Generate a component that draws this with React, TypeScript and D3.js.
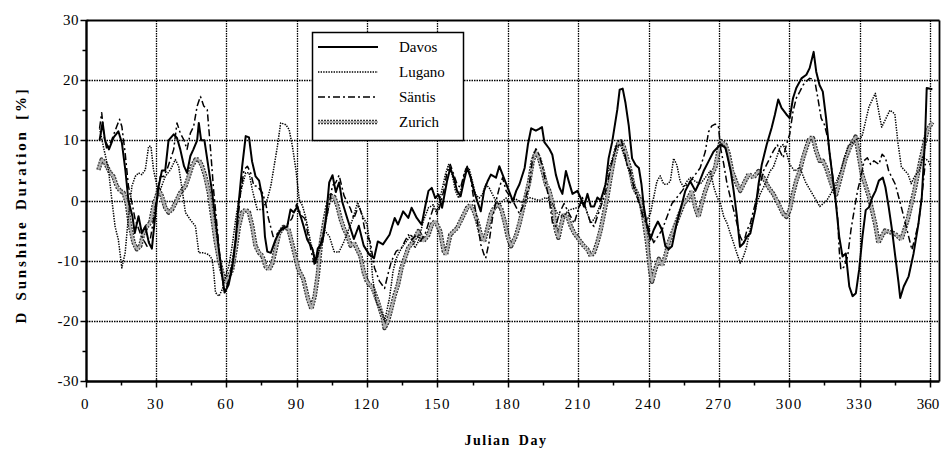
import * as d3 from "d3";

// Julian day, deviation of sunshine duration [%]
const davos: [number, number][] = [
  [6, 10], [7.3, 13], [8.3, 10], [10, 8.5], [12, 10.5], [14, 11.5], [15.5, 9.6], [17, 5], [18.3, 0], [20, -2.6],
  [21, -5.4], [22.6, -2.6], [24, -5.4], [25.5, -4.3], [27, -7], [28.3, -8], [29.7, -2.6], [31, 2], [32.6, 5], [34, 5],
  [35.4, 10], [37.6, 11], [39, 10.4], [40.4, 8.5], [42, 5.7], [43.3, 4.6], [44.7, 7.4], [46, 8.5], [47.6, 10], [48.3, 12.9],
  [49.3, 10], [50.7, 10], [52.6, 5], [54, 1.3], [55.4, -3.2], [56.8, -8], [58.3, -12.6], [59.3, -15.3], [61, -14], [62.6, -11],
  [64, -6.5], [65.4, 0], [66.8, 5.7], [68.3, 10.7], [69.7, 10.5], [71, 6.5], [72.5, 4], [74, 3.3], [75.4, 0.5], [76.5, -6],
  [77.5, -8.5], [79, -8.7], [81, -6.5], [83, -5], [86, -4.3], [87.4, -1.5], [88.8, -2], [90.3, -1], [92, -3], [93, -4.3],
  [94.5, -6.5], [96.7, -8], [98, -10.4], [99, -8], [101, -6.9], [102.5, -3], [103.9, 3], [105.3, 4.2], [106.7, 1.4], [108.1, 3],
  [109.5, -0.3], [111.6, -3], [114.4, -6.4], [116.5, -4.2], [118.6, -7.5], [121, -9], [123, -9.6], [124.6, -6.8], [126.8, -7.3], [129.6, -5.7],
  [131.8, -2.9], [133.2, -4], [135.4, -1.8], [137.6, -2.9], [139, -1.2], [141.2, -2.9], [143.3, -4], [144.7, -1.2], [146.2, 1.6], [147.6, 2.1],
  [149.1, 0.4], [150.5, 1], [152, -1.2], [154.1, 3.2], [155.5, 5.4], [157, 3.8], [158.4, 1.6], [159.9, 0.7], [161.3, 3.2], [162.7, 5.4],
  [164.2, 3.8], [165.6, 1.6], [167, -0.1], [168.5, -1.8], [169.9, 1.6], [171.4, 3.2], [172.8, 4.3], [175, 3.8], [176.4, 5.7], [177.8, 4.3],
  [180, 2.1], [182.2, -0.1], [183.6, 1.6], [185, 2.7], [187.2, 5.4], [188.6, 9.3], [190, 12], [192, 11.6], [193.4, 11.9], [194.6, 12.2],
  [195.6, 9.7], [197.7, 8.6], [199, 7.6], [200.5, 4.3], [202, 2.2], [203.3, 1.1], [204.8, 4.9], [206, 3.2], [207.6, 1.1], [209.7, 1.6],
  [211, 0.5], [212.5, -1], [214, 1.1], [215.4, -1], [216.8, -1], [218.2, 0.5], [219.6, 0], [221.7, 2.7], [223, 7], [224.5, 9.7],
  [226.7, 15.1], [227.7, 18.4], [229, 18.6], [230.2, 16.2], [231.6, 12.4], [233, 7], [234.5, 5.9], [235.9, 5.4], [237, 2.7], [238, -1],
  [239.4, -4.3], [240.8, -6.5], [242.2, -4.9], [244, -3.5], [245.8, -4.9], [247.2, -7.6], [248.6, -8.1], [250, -7.6], [252, -3.8], [254.3, -0.5],
  [255.7, 1.6], [257.8, 3.2], [260, 1.6], [261.3, 2.7], [263.5, 4.9], [265.6, 6.5], [267.7, 8.1], [270.7, 9.3], [272.8, 8.8], [275, 5],
  [276.3, 1.6], [277.7, -2.7], [279, -7.7], [280.5, -7.1], [282, -6], [283.4, -5.5], [285.5, -1.6], [286.9, 2.7], [288.3, 6], [290.4, 9.3],
  [292.5, 12.1], [293.9, 14.3], [295.3, 16.8], [296.7, 15.4], [298.8, 14.3], [300.2, 13.7], [301.6, 17], [303, 18.7], [305.2, 20.3], [307.3, 20.9],
  [308.7, 22], [310.4, 24.7], [311.5, 21.4], [312.9, 19.2], [314.3, 18.1], [315.7, 13.7], [317.1, 8.2], [318.5, 3.8], [319.9, -0.5], [321.3, -6],
  [322.7, -9.3], [324.1, -8.8], [325.6, -14.3], [327, -15.9], [328.4, -15.4], [329.8, -11.5], [331.2, -6], [332.6, -1.6], [334, -1.1], [335.4, 0.5],
  [336.8, 1.6], [338.2, 3.3], [339.9, 3.8], [341, 2.2], [342.4, -1.1], [343.8, -4.9], [345.2, -9.3], [346.6, -13.7], [347.3, -16.2], [348.8, -14.3],
  [350.9, -12.6], [353, -8.8], [355.1, -3.8], [356.5, 0.5], [357.9, 10.4], [358.6, 18.7], [361, 18.5],
];

const lugano: [number, number][] = [
  [6, 12], [7.6, 9], [9.8, 5.1], [11.2, 0.2], [12.6, -4.3], [14, -6.5], [15.5, -11.2], [16.9, -8.7], [18.3, -2.6], [19.8, 2.4],
  [21.2, 4], [22.6, 4.6], [24, 4.3], [25.5, 5.1], [26.9, 9], [27.9, 9], [29, 5.1], [30.5, 2.4], [31.9, 1.8], [34, 4],
  [36.2, 5.1], [38.3, 6.8], [39.7, 5.7], [41.2, 1.8], [42.6, -2], [44.7, -3.2], [46.9, -4.3], [48.3, -8.7], [50.4, -8.7], [52.6, -9],
  [54, -9.8], [54.7, -12], [55.4, -15.3], [56.9, -15.9], [58.3, -14.8], [59.7, -12.6], [61.1, -10.9], [62.5, -7.6], [64, -3.2], [65.4, 0.2],
  [66.8, 2.4], [68.3, 4.6], [69.7, 4.6], [71.1, 1.8], [73.2, -1.5], [75.4, -1.5], [77.5, 0.2], [79, 2.4], [80.4, 5.7], [81.8, 9],
  [83.2, 12.9], [85.4, 12.6], [86.8, 11.8], [88.2, 9], [89.7, 5.1], [91.1, 0.2], [92.5, -0.9], [94, -3], [96, -7], [98, -9.7],
  [100, -8], [102, -5], [104, -6], [106, -8.5], [108, -8.6], [110, -7], [112, -5], [114, -3], [116, -0.3], [118, -2.5],
  [120, -4], [121.4, -7.5], [122.4, -12.9], [123.9, -16.8], [126, -18.4], [127.5, -20.1], [129.6, -16.2], [131.1, -11.8], [132.5, -9.6], [134.7, -7.9],
  [136.8, -6.8], [139, -5.7], [140.4, -7.9], [141.9, -6.8], [144, -3.4], [146.2, -1.2], [148.3, -0.7], [149.8, -2.3], [151.2, 0.4], [153.4, 4.3],
  [154.8, 6], [156.3, 4.3], [157.7, 1.6], [159.1, 0.4], [160.6, 2.7], [162, 5.2], [163.5, 5.4], [164.9, 3.2], [166.3, 1], [167.8, 0.4],
  [169.2, 1], [170.6, 2.7], [172.1, 2.1], [173.5, 1], [175, -0.1], [176.4, -0.7], [177.8, -0.1], [179.3, 0.4], [180.7, -0.5], [183, 0.3],
  [186, -0.3], [189.2, 0.5], [193.4, 0], [196.3, 0.5], [199, -0.5], [201.2, -2.2], [203.5, -2.7], [206, -1.6], [210.4, -1.1], [212, 0],
  [213.5, -1.6], [215.4, -3.8], [217.5, -2.7], [219.6, -0.5], [221, 1.6], [223.1, 5.4], [225.3, 7.6], [226.7, 9.2], [228.1, 9.2], [229.5, 7.6],
  [230.9, 5.9], [232.3, 4.3], [233.7, 2.7], [235.2, 1.1], [236.6, -1.1], [238, -2.2], [239.4, -3.2], [240.8, -2.2], [242.2, 0.5], [243.6, 3.2],
  [245, 4.1], [246.5, 2.7], [247.9, 2.7], [249.3, 3.2], [250.7, 7], [252.1, 5.9], [253.5, 3.2], [255, 2.2], [256.4, 3.2], [257.8, 3.8],
  [259.9, 3.2], [262, 2.7], [264.2, 3.8], [266.3, 4.9], [268, 2], [269.3, 0.5], [270.7, -0.5], [272.1, -2.7], [273.5, -3.8], [274.9, -5.5],
  [276.3, -7.1], [277.7, -8.8], [279.1, -10.4], [280.5, -9.3], [281.8, -7.7], [283.2, -4.9], [284.8, -2.7], [286.2, -0.5], [287.6, 1.1], [289.7, 2.7],
  [291.8, 4.9], [293.2, 5.5], [294.6, 7.1], [296, 8.8], [297.4, 9.3], [298.8, 8], [300.2, 6], [302.3, 4.9], [304.5, 5.5], [307, 3],
  [310, 1], [313, -1], [316, 0], [319, 2], [322, 5], [325, 9], [328, 10], [331, 10.6], [334, 15.6], [336.7, 17.8],
  [339.4, 12.2], [340.8, 13.3], [342.9, 15], [345, 14.4], [346.4, 9.4], [347.8, 5.6], [350.6, 4.4], [352, 2.8], [353.3, 3.9], [355.4, 5],
  [356.8, 7.2], [358.9, 6.7], [360.3, 6.1],
];

const santis: [number, number][] = [
  [6, 12], [6.9, 14.6], [7.9, 10.7], [9.1, 8.5], [11.2, 10.1], [13.3, 12.3], [14.5, 13.5], [15.5, 12.3], [16.9, 7.9], [18.3, 2.4],
  [19.8, -0.4], [21.2, -3.2], [23.3, -5.4], [24.7, -6.5], [26.2, -7.6], [27.6, -6.5], [29, -3.2], [30.5, 0.7], [31.9, 4], [33.3, 4],
  [34.7, 5.1], [36.2, 6.8], [37.6, 8.5], [39, 12.9], [40.4, 11.2], [41.9, 10.1], [43.3, 8.5], [44.7, 11.2], [46.1, 12.3], [47.6, 15.7],
  [49, 17.3], [50.4, 15.7], [51.9, 15.1], [53.3, 8.5], [54.7, 1.3], [56.1, -4.3], [57.6, -10.9], [59, -14.8], [60.4, -14.2], [61.8, -12],
  [63.3, -9.2], [64.7, -4.3], [66.1, 1.3], [67.6, 5.1], [69, 5.7], [70.4, 4.6], [71.8, 2.4], [73.2, 2.4], [75.4, 1.3], [76.8, -0.4],
  [78, -3], [80, -6], [82, -5.5], [84, -4.5], [86, -4], [88, -3], [90, -0.6], [92, -2.5], [93.5, -3], [94.9, -5.8],
  [96.3, -8.6], [97.7, -10.8], [99, -9.2], [100.4, -6.9], [101.8, -4.7], [104, -0.3], [105.3, 2.5], [106.7, 3], [108.1, 4.2], [110.2, 0.8],
  [111.6, -0.3], [113, -1.4], [114.4, -3], [116.5, -0.8], [117.9, -2.5], [119.3, -5.3], [121.4, -6.9], [123.2, -11.2], [125.3, -13.4], [127.5, -14.6],
  [128.9, -12.3], [130.4, -10.1], [132.5, -8.4], [134.7, -7.9], [136.1, -6.8], [137.6, -5.7], [139, -6.5], [141.2, -5.7], [142.6, -6.8], [144.7, -5.7],
  [146.9, -2.9], [148.3, -1.2], [150.5, -1.8], [152.7, 1.6], [154.1, 4.6], [155.5, 6], [157, 4.3], [158.4, 2.7], [159.9, 2.1], [161.3, 4.3],
  [162.7, 5.7], [164.2, 3.8], [165.6, -0.1], [167, -3.4], [168.5, -7.3], [169.9, -9], [170.6, -9.6], [172.1, -6.8], [173.5, -2.9], [175, -0.1],
  [176.4, 2.1], [177.8, 3.8], [179.3, 1.6], [182.1, 0], [185, -2.2], [187, -0.5], [189.2, 2.7], [190.6, 7], [192, 8.6], [193.4, 7.6],
  [194.9, 5.4], [196.3, 2.7], [197.7, 0], [199.1, -3.8], [200.5, -4.3], [201.9, -2.2], [204, -0.5], [206.2, -2.2], [208.3, -3.8], [210.4, -1.1],
  [211.8, 0.5], [214, -2.2], [215.4, -3.8], [216.8, -4.3], [218.2, -2.7], [219.6, -1.1], [221, 0.5], [222.4, 2.7], [223.8, 5.4], [225.3, 7.6],
  [226.7, 9.7], [228.1, 10.3], [229.5, 8.6], [230.9, 5.9], [232.3, 4.9], [233.7, 2.2], [235.2, 0.5], [236.6, -1.1], [238, -3.2], [239.4, -3.8],
  [240.8, -5.4], [242.2, -7], [245.8, -4.9], [247.9, -2.7], [250, -0.5], [252.1, 0.5], [254.3, 1.6], [256.4, 2.7], [257.8, 3.2], [259.9, 4.3],
  [262, 5.4], [264.2, 8.1], [265.6, 11.4], [267, 12.4], [268.4, 12.7], [269.8, 12.4], [270.7, 8.8], [272.1, 6], [273.5, 2.7], [274.9, 0.5],
  [276.3, -1.6], [277.7, -3.8], [279.1, -6], [280.5, -7.1], [282, -4.9], [283.4, -3.8], [284.8, -1.6], [286.9, 1.6], [289, 4.9], [290.4, 6],
  [291.8, 7.1], [293.2, 8.2], [294.9, 9.3], [296, 8.2], [297.4, 7.1], [298.8, 9.3], [300.2, 11], [301.6, 14.8], [303, 17], [304.5, 18.1],
  [305.9, 19.2], [307.3, 19.8], [308.7, 20.3], [310.8, 20.1], [312.2, 17], [313.6, 13.7], [315, 12.6], [316.4, 10.4], [317.8, 6], [319.2, 2.2],
  [320.6, -2.7], [321.3, -8.2], [322, -11.5], [323.4, -11], [324.9, -9.3], [326.3, -4.9], [327.7, -1.6], [329.1, 1.6], [330.5, 3.8], [331.9, 6.6],
  [333.3, 7.1], [334.7, 6], [336.1, 6.6], [338.2, 6], [339.6, 7.7], [341, 7.1], [342.4, 4.9], [343.8, 3.8], [345.2, 2.7], [346.7, 0.5],
  [348.1, -1.6], [349.5, -3.8], [350.9, -6], [352.3, -8.2], [355.1, -3.8], [356.5, 0.5], [357.9, 6], [360, 6],
];

const zurich: [number, number][] = [
  [5.5, 5.1], [6.9, 6.8], [8.3, 6.3], [10.5, 4.6], [11.9, 4], [13.3, 2.4], [14.8, 1.6], [16.2, 1.3], [17.6, -0.4], [19, -4.3],
  [20.5, -7], [21.9, -8.1], [23.3, -7.6], [24.7, -5.4], [26.2, -4.3], [27.6, -3.7], [29, -0.9], [31.2, 1.8], [32.6, 0.7], [34, -1.2],
  [35.4, -2], [36.9, -1.5], [38.3, -0.4], [40.4, 1.3], [42.6, 2.4], [44, 4], [45.4, 5.7], [46.9, 6.8], [48.3, 6.8], [49.7, 5.7],
  [51.1, 4], [52.6, 1.3], [54, -2.6], [55.4, -6.5], [56.9, -9.8], [58.3, -12], [59.7, -13.7], [61.1, -12.6], [62.5, -11.5], [64, -8.1],
  [65.4, -4.3], [66.8, -2], [68.3, -1.5], [69.7, -2], [71.1, -4.3], [72.5, -7.6], [74, -8.7], [75.4, -9.2], [76.8, -11], [78.2, -11.5],
  [79.7, -10.4], [81.1, -8], [82.5, -5.5], [84.4, -4.4], [86.5, -4.7], [88.6, -8], [90.7, -11.4], [92.8, -13], [94.9, -16.4], [96.3, -18],
  [97.7, -15.9], [99, -12.5], [100.4, -6.9], [101.8, -3.6], [103.2, -0.8], [104.6, 0.8], [106, 0.6], [107.4, -0.9], [108.8, -3.1], [110.2, -4.7],
  [111.6, -5.8], [113, -7.5], [114.4, -7], [115.8, -8.1], [117.2, -9.2], [118.6, -11.9], [120, -13.5], [122.4, -14.5], [124.6, -16.8], [126.8, -19.6],
  [127.5, -21.2], [128.9, -20.1], [130.4, -17.9], [131.8, -15.7], [133.2, -14], [134.7, -11.2], [136.1, -9.6], [137.6, -7.9], [139.7, -6.8], [141.9, -5.1],
  [144, -6.8], [146.2, -5.7], [147.6, -4], [149.1, -3.4], [151.2, -5.1], [152.7, -8.4], [153.7, -9], [155.5, -5.7], [157, -5.1], [158.4, -4.6],
  [159.9, -3.4], [161.3, -2.3], [162.7, -1.2], [164.2, -0.7], [165.6, -1.8], [167, -3.4], [168.5, -5.7], [169.9, -6.8], [171.4, -4.6], [172.8, -2.3],
  [174.2, -1.2], [175.7, -0.7], [177.1, -1.2], [178.6, -3.4], [180, -6], [181.4, -7.6], [183.5, -5.9], [185, -3.8], [187, -0.5], [189.2, 3.2],
  [190.6, 6.5], [192, 8.1], [193.4, 7], [194.9, 4.9], [196.3, 2.7], [197.7, 1.6], [199.1, -0.5], [200.5, -4.9], [201.6, -6.2], [202.6, -4.3],
  [204, -2.2], [205.5, -2.7], [206.9, -4.3], [208.3, -5.4], [210.4, -6.5], [212.5, -7.6], [213.9, -8.1], [215.4, -9.2], [216.8, -8.6], [218.2, -7],
  [219.6, -4.9], [221, -2.2], [222.4, 0.5], [223.8, 3.8], [225.3, 7], [226.7, 9.2], [228.1, 10], [229.5, 8.9], [230.9, 7], [232.3, 4.9],
  [233.7, 2.2], [235.2, 1.1], [236.6, 0], [238, -3.2], [239.4, -7], [240.8, -11.9], [241.5, -13.5], [242.9, -11.4], [244.4, -9.7], [245.8, -10.8],
  [247.2, -9.2], [248.6, -7], [250.7, -4.9], [252.8, -2.7], [255, -0.5], [257.1, 0.5], [258.5, 1.6], [259.9, -1.1], [261.3, -2.7], [262.7, -0.5],
  [264.2, 1.6], [266.3, 3.8], [268.4, 5.4], [270.7, 9.9], [272.8, 9.3], [274.2, 7.7], [275.6, 4.9], [277.7, 2.7], [279.1, 1.6], [280.5, 2.7],
  [282.7, 4.4], [284.8, 3.8], [286.9, 4.9], [289, 3.8], [291.1, 2.2], [293.2, 1.1], [295.3, -0.5], [297.4, -2.2], [298.8, -2.7], [300.2, -1.6],
  [301.6, 1.1], [303, 3.3], [304.5, 4.9], [305.9, 7.1], [307.3, 8.8], [308.7, 10.4], [310.1, 10.4], [311.5, 8.2], [312.9, 6.6], [314.3, 6.6],
  [315.7, 5.5], [317.1, 3.8], [318.5, 2.2], [320, 1], [322, 4], [324, 7], [326, 9], [328.3, 10.6], [331, 4.4], [334, 0.6],
  [336.7, -4], [338, -7], [340.8, -5], [345, -5.5], [347.8, -6.5], [350.6, -3], [353.3, 1.5], [356, 6.7], [358.9, 11.7], [361, 13],
];

const xTicks = [0, 30, 60, 90, 120, 150, 180, 210, 240, 270, 300, 330, 360];
const yTicks = [-30, -20, -10, 0, 10, 20, 30];
const legendNames = ["Davos", "Lugano", "Säntis", "Zurich"];

const W = 941;
const H = 451;
const serif = "'Liberation Serif', 'Times New Roman', serif";

// snap a coordinate to the pixel grid so thin dotted lines stay crisp
const px = (v: number) => Math.round(v) + 0.5;

export default function App() {
  const x = d3.scaleLinear().domain([0, 360]).range([85.5, 930]);
  const y = d3.scaleLinear().domain([-30, 30]).range([381, 20]);
  const left = px(x(0));
  const right = px(x(364));
  const top = px(y(30));
  const bottom = px(y(-30));

  const line = d3
    .line<[number, number]>()
    .x((d) => x(d[0]))
    .y((d) => y(d[1]));

  const minorX = d3.range(15, 361, 30);
  const minorY = d3.range(-25, 30, 10);

  const legendY = (i: number) => 47 + i * 25;

  return (
    <svg
      width={W}
      height={H}
      style={{ position: "absolute", left: 0, top: 0, background: "#fff" }}
      fontFamily={serif}
    >
      {/* grid */}
      <g stroke="#000" strokeWidth={1.3} strokeDasharray="1.5 1">
        {xTicks.slice(1).map((t) => (
          <line key={"gx" + t} x1={px(x(t))} x2={px(x(t))} y1={top} y2={bottom} />
        ))}
        {yTicks.slice(1, -1).map((t) => (
          <line key={"gy" + t} x1={left} x2={right} y1={px(y(t))} y2={px(y(t))} />
        ))}
      </g>

      {/* series */}
      <g fill="none" strokeLinejoin="round">
        <path d={line(zurich) || ""} stroke="#333" strokeWidth={4.5} strokeDasharray="2 1" />
        <path d={line(zurich) || ""} stroke="#b0b0b0" strokeWidth={2} />
        <path d={line(lugano) || ""} stroke="#000" strokeWidth={1.5} strokeDasharray="1.4 1.2" />
        <path d={line(santis) || ""} stroke="#000" strokeWidth={1.5} strokeDasharray="7 3 2 3" />
        <path d={line(davos) || ""} stroke="#000" strokeWidth={2} />
      </g>

      {/* frame */}
      <g stroke="#000" fill="none">
        <line x1={left} x2={right} y1={top} y2={top} strokeWidth={1.8} />
        <line x1={right} x2={right} y1={top} y2={bottom} strokeWidth={1.8} />
        <line x1={left} x2={right} y1={bottom} y2={bottom} strokeWidth={2.4} />
        <line x1={left} x2={left} y1={top} y2={bottom} strokeWidth={2.4} />
      </g>

      {/* ticks */}
      <g stroke="#000" strokeWidth={1.5}>
        {xTicks.map((t) => (
          <line key={"tx" + t} x1={px(x(t))} x2={px(x(t))} y1={bottom - 2} y2={bottom + 6} />
        ))}
        {minorX.map((t) => (
          <line key={"mx" + t} x1={px(x(t))} x2={px(x(t))} y1={bottom} y2={bottom + 4} />
        ))}
        {yTicks.map((t) => (
          <line key={"ty" + t} x1={left - 6} x2={left + 2} y1={px(y(t))} y2={px(y(t))} />
        ))}
        {minorY.map((t) => (
          <line key={"my" + t} x1={left - 4} x2={left} y1={px(y(t))} y2={px(y(t))} />
        ))}
      </g>

      {/* tick labels */}
      <g fontSize={15} fill="#000">
        {xTicks.map((t) => (
          <text
            key={"lx" + t}
            x={Math.min(x(t), W - 13)}
            y={409}
            textAnchor="middle"
            letterSpacing={t === 360 ? 0 : 1.5}
          >
            {t}
          </text>
        ))}
        {yTicks.map((t) => (
          <text key={"ly" + t} x={79} y={y(t) + 5} textAnchor="end" letterSpacing={0.5}>
            {t}
          </text>
        ))}
      </g>

      {/* axis titles */}
      <text x={506} y={445} textAnchor="middle" fontSize={14} fontWeight="bold" letterSpacing={1.5} wordSpacing={3}>
        Julian Day
      </text>
      <text
        transform={`translate(26,${(top + bottom) / 2 + 4}) rotate(-90)`}
        textAnchor="middle"
        fontSize={15}
        fontWeight="bold"
        letterSpacing={2.8}
        wordSpacing={3}
      >
        D Sunshine Duration [%]
      </text>

      {/* legend */}
      <g>
        <rect x={312.5} y={32.5} width={151} height={108} fill="#fff" stroke="#000" strokeWidth={1.5} />
        {legendNames.map((name, i) => {
          const ly = legendY(i);
          return (
            <g key={name}>
              {name === "Zurich" ? (
                <>
                  <line x1={318} x2={378} y1={ly} y2={ly} stroke="#333" strokeWidth={4.5} strokeDasharray="2 1" />
                  <line x1={318} x2={378} y1={ly} y2={ly} stroke="#b0b0b0" strokeWidth={2} />
                </>
              ) : (
                <line
                  x1={318}
                  x2={378}
                  y1={ly}
                  y2={ly}
                  stroke="#000"
                  strokeWidth={name === "Davos" ? 2 : 1.5}
                  strokeDasharray={name === "Lugano" ? "1.4 1.2" : name === "Säntis" ? "7 3 2 3" : undefined}
                />
              )}
              <text x={399} y={ly + 5} fontSize={15}>
                {name}
              </text>
            </g>
          );
        })}
      </g>
    </svg>
  );
}
